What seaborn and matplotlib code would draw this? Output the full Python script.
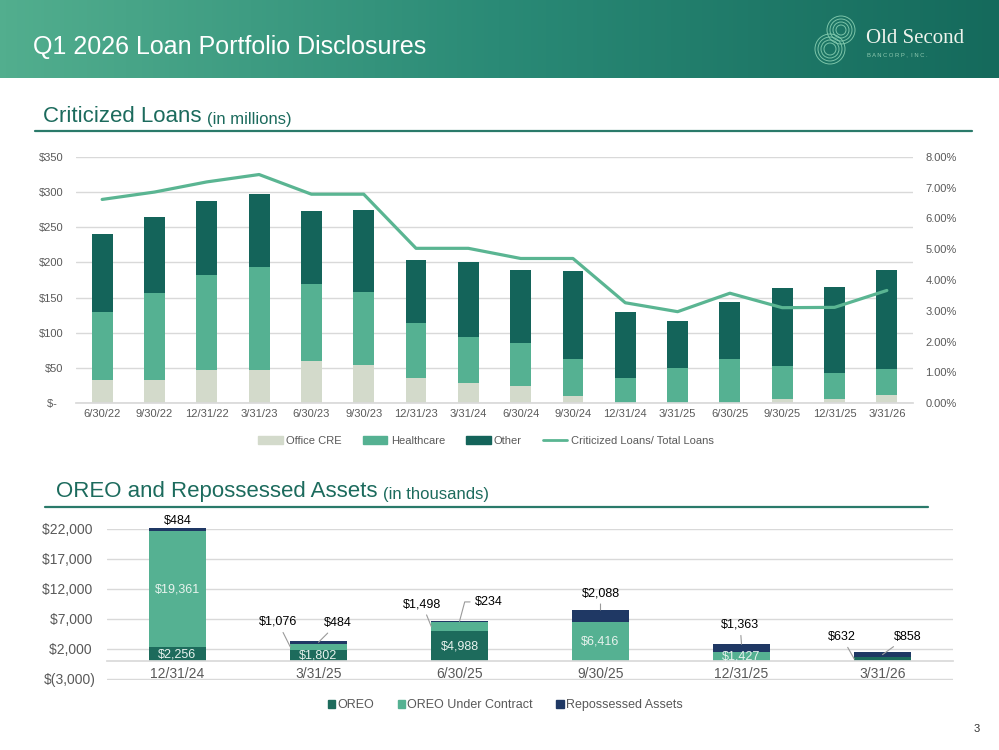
import numpy as np
import matplotlib
matplotlib.use("Agg")
import matplotlib.pyplot as plt
import seaborn as sns
from matplotlib.colors import LinearSegmentedColormap
from matplotlib.patches import Patch, Circle
from matplotlib.lines import Line2D

# ---- criticized loans ($ millions) ----
quarters = ["6/30/22", "9/30/22", "12/31/22", "3/31/23", "6/30/23", "9/30/23",
            "12/31/23", "3/31/24", "6/30/24", "9/30/24", "12/31/24", "3/31/25",
            "6/30/25", "9/30/25", "12/31/25", "3/31/26"]
office_cre = [33, 33, 47, 47, 60, 54, 35, 28, 24, 10, 0, 0, 0, 6, 6, 12]
healthcare = [96, 124, 135, 146, 109, 104, 79, 66, 61, 53, 35, 50, 62, 46, 36, 36]
other = [111, 108, 106, 105, 104, 116, 90, 106, 104, 125, 95, 67, 81, 112, 123, 141]
criticized_pct = [6.62, 6.86, 7.19, 7.43, 6.79, 6.79, 5.03, 5.03, 4.70, 4.70,
                  3.26, 2.97, 3.57, 3.10, 3.11, 3.66]

# ---- OREO and repossessed assets ($ thousands) ----
oreo_dates = ["12/31/24", "3/31/25", "6/30/25", "9/30/25", "12/31/25", "3/31/26"]
oreo = [2256, 1802, 4988, 0, 0, 632]
oreo_contract = [19361, 1076, 1498, 6416, 1427, 0]
repossessed = [484, 484, 234, 2088, 1363, 858]

# colours
C_OFFICE = "#d3dacb"
C_HEALTH = "#55b192"
C_OTHER = "#14645a"
C_LINE = "#5ab592"
C_OREO = "#1d6b5c"
C_REPO = "#1f3864"
TEAL_TXT = "#1c6b5d"
GRID = "#d9d9d9"
TICK_TXT = "#595959"

sns.set_theme(style="white")
plt.rcParams["font.family"] = ["Liberation Sans", "DejaVu Sans"]

W, H = 999, 750
fig = plt.figure(figsize=(W / 100, H / 100), dpi=100)

# page decoration drawn in pixel coordinates
deco = fig.add_axes([0, 0, 1, 1])
deco.axis("off")
grad = LinearSegmentedColormap.from_list("hdr", ["#52ae8e", "#2a8a76", "#156a5c"])
deco.imshow(np.linspace(0, 1, 300)[None, :], cmap=grad, aspect="auto",
            extent=(0, W, 78, 0), interpolation="bilinear")
deco.set_xlim(0, W)
deco.set_ylim(H, 0)
deco.text(33, 54, "Q1 2026 Loan Portfolio Disclosures", color="white",
          fontsize=18, va="baseline", ha="left")

# logo
for cx, cy, r0 in [(841, 30, 14), (830, 49, 15)]:
    for k in range(4):
        deco.add_patch(Circle((cx, cy), r0 - k * 3, fill=False,
                              ec="#86cdb0", lw=0.7, alpha=0.9))
deco.text(866, 43, "Old Second", color="#eef3ec", fontsize=15,
          family="Liberation Serif", va="baseline")
deco.text(867, 56, "B A N C O R P ,  I N C .", color="#8fc9b0", fontsize=4.2,
          va="baseline")

# section headings
t1 = deco.text(43, 122, "Criticized Loans", color=TEAL_TXT, fontsize=16,
               va="baseline")
deco.annotate("(in millions)", xy=(1, 0), xycoords=t1, xytext=(4, 0),
              textcoords="offset points", color=TEAL_TXT, fontsize=12,
              va="bottom")
deco.plot([35, 972], [131, 131], color="#2a7a6a", lw=1.6)
t2 = deco.text(56, 497, "OREO and Repossessed Assets", color=TEAL_TXT,
               fontsize=16, va="baseline")
deco.annotate("(in thousands)", xy=(1, 0), xycoords=t2, xytext=(4, 0),
              textcoords="offset points", color=TEAL_TXT, fontsize=12,
              va="bottom")
deco.plot([45, 928], [507, 507], color="#2a7a6a", lw=1.6)
deco.text(977, 729, "3", fontsize=8, color="#333333", ha="center", va="center")

# ================= top chart =================
ax = fig.add_axes([76 / W, 1 - 403 / H, 837 / W, 246 / H])
n = len(quarters)
hc_top = np.add(office_cre, healthcare)
total = hc_top + np.array(other)
for vals, col in [(total, C_OTHER), (hc_top, C_HEALTH), (office_cre, C_OFFICE)]:
    sns.barplot(x=quarters, y=vals, color=col, width=0.4, saturation=1,
                errorbar=None, linewidth=0, ax=ax)
ax.set_ylim(0, 350)
ax.set_xlim(-0.5, n - 0.5)
ax.set_yticks(range(0, 351, 50))
ax.set_yticklabels(["$-  "] + [f"${v}" for v in range(50, 351, 50)])
ax.yaxis.grid(True, color=GRID, lw=1)
ax.set_axisbelow(True)
for s in ["top", "right", "left"]:
    ax.spines[s].set_visible(False)
ax.spines["bottom"].set_color(GRID)
ax.set_xticks(np.arange(-0.5, n, 1), minor=True)
ax.tick_params(axis="x", which="major", length=0, labelsize=8,
               labelcolor=TICK_TXT, pad=4)
ax.tick_params(axis="x", which="minor", length=5, color=GRID, width=1,
               direction="out")
ax.tick_params(axis="y", length=0, labelsize=8, labelcolor=TICK_TXT, pad=9)
ax.set_xlabel("")

ax2 = ax.twinx()
sns.lineplot(x=np.arange(n), y=criticized_pct, color=C_LINE, lw=2.3,
             sort=False, ax=ax2)
ax2.set_ylim(0, 8)
ax2.set_yticks(range(0, 9))
ax2.set_yticklabels([f"{v:.2f}%" for v in range(0, 9)])
ax2.tick_params(axis="y", length=0, labelsize=8, labelcolor=TICK_TXT, pad=9)
for s in ax2.spines.values():
    s.set_visible(False)
ax2.grid(False)
ax.set_xlim(-0.5, n - 0.5)

top_handles = [Patch(color=C_OFFICE), Patch(color=C_HEALTH), Patch(color=C_OTHER),
               Line2D([], [], color=C_LINE, lw=2)]
fig.legend(top_handles, ["Office CRE", "Healthcare", "Other",
                         "Criticized Loans/ Total Loans"],
           loc="center", bbox_to_anchor=(486 / W, 1 - 441 / H), ncol=4,
           frameon=False, fontsize=8, handlelength=2.2, handleheight=0.7,
           handletextpad=0.3, columnspacing=1.9, labelcolor=TICK_TXT)

# ================= bottom chart =================
bx = fig.add_axes([107 / W, 1 - 680 / H, 846 / W, 151 / H])
m = len(oreo_dates)
s1 = np.array(oreo)
s2 = s1 + np.array(oreo_contract)
s3 = s2 + np.array(repossessed)
for vals, col in [(s3, C_REPO), (s2, C_HEALTH), (s1, C_OREO)]:
    sns.barplot(x=oreo_dates, y=vals, color=col, width=0.4, saturation=1,
                errorbar=None, linewidth=0, ax=bx)
for p in bx.patches:
    p.set_clip_on(False)
bx.set_ylim(-3170, 22000)
bx.set_xlim(-0.5, m - 0.5)
yt = list(range(-3000, 22001, 5000))
bx.set_yticks(yt)
bx.set_yticklabels([f"$({-v:,})" if v < 0 else f"${v:,} " for v in yt])
bx.yaxis.grid(True, color=GRID, lw=1)
bx.set_axisbelow(True)
for s in ["top", "right", "left"]:
    bx.spines[s].set_visible(False)
bx.spines["bottom"].set_position(("data", 0))
bx.spines["bottom"].set_color(GRID)
bx.set_xticks(np.arange(-0.5, m, 1), minor=True)
bx.tick_params(axis="x", which="major", length=0, labelsize=10,
               labelcolor=TICK_TXT, pad=4)
bx.tick_params(axis="x", which="minor", length=4, color=GRID, width=1)
bx.tick_params(axis="y", length=0, labelsize=10, labelcolor=TICK_TXT, pad=8)
bx.set_xlabel("")

# data labels: (anchor, dx pt, dy pt[, connection style])
oreo_lbl = [("in", 0, 0), ("in", 0, 0), ("in", 0, 0), None, None, ("left", -9, 16)]
contract_lbl = [("in", 0, 0), ("left", -9, 18), ("left", -6.5, 16), ("in", 0, 0),
                ("in", 0, 0), None]
repo_lbl = [("above", 0, 1), ("mid", 14, 14),
            ("mid", 21, 14, "angle,angleA=0,angleB=75,rad=0"),
            ("top", 0, 12), ("top", -1, 14), ("mid", 18, 13)]

series = [(oreo, np.zeros(m), oreo_lbl), (oreo_contract, s1, contract_lbl),
          (repossessed, s2, repo_lbl)]
for vals, base, lays in series:
    for i, (v, b, lay) in enumerate(zip(vals, base, lays)):
        if lay is None or v == 0:
            continue
        txt = f"${v:,}"
        mode, dx, dy = lay[:3]
        if mode == "in":
            bx.text(i, b + v / 2, txt, color="#e8f3ee", fontsize=9,
                    ha="center", va="center")
            continue
        if mode == "above":
            bx.annotate(txt, xy=(i, b + v), xytext=(dx, dy),
                        textcoords="offset points", ha="center", va="bottom",
                        fontsize=9, color="black", annotation_clip=False)
            continue
        xy = {"left": (i - 0.2, b + v / 2), "mid": (i, b + v / 2),
              "top": (i, b + v)}[mode]
        conn = lay[3] if len(lay) > 3 else "arc3"
        bx.annotate(txt, xy=xy, xytext=(dx, dy), textcoords="offset points",
                    ha="center", va="center", fontsize=9, color="black",
                    annotation_clip=False,
                    arrowprops=dict(arrowstyle="-", color="#9a9a9a", lw=0.8,
                                    shrinkA=1, shrinkB=0, connectionstyle=conn))

bot_handles = [Patch(color=C_OREO), Patch(color=C_HEALTH), Patch(color=C_REPO)]
fig.legend(bot_handles, ["OREO", "OREO Under Contract", "Repossessed Assets"],
           loc="center", bbox_to_anchor=(505 / W, 1 - 705 / H), ncol=3,
           frameon=False, fontsize=9, handlelength=0.6, handleheight=0.6,
           handletextpad=0.15, columnspacing=1.9, labelcolor=TICK_TXT)

fig.savefig("out.png", dpi=100)
